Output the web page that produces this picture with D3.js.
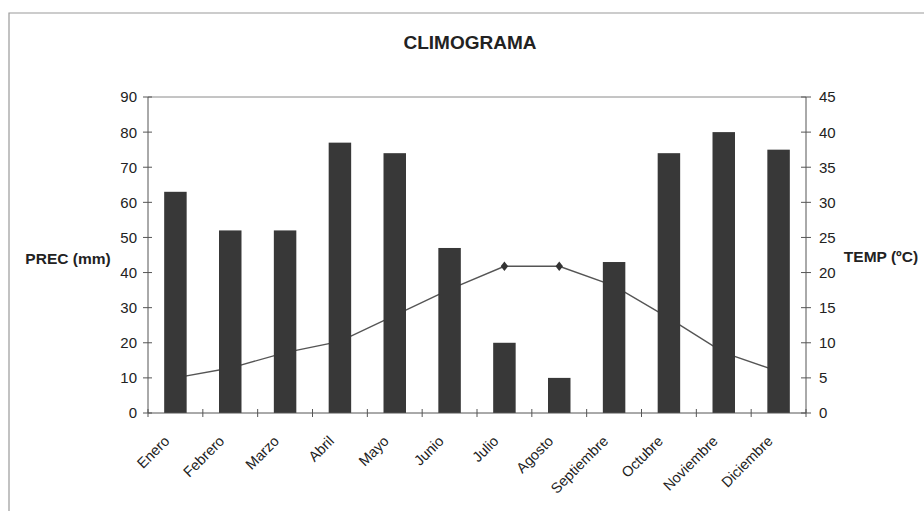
<!DOCTYPE html>
<html>
<head>
<meta charset="utf-8">
<script src="https://cdn.jsdelivr.net/npm/d3@7"></script>
<style>
  body { margin: 0; background: #fff; }
  svg { display: block; font-family: "Liberation Sans", Arial, sans-serif; }
</style>
</head>
<body>
<svg id="chart" width="924" height="511"></svg>
<script>
const months = ['Enero', 'Febrero', 'Marzo', 'Abril', 'Mayo', 'Junio', 'Julio',
  'Agosto', 'Septiembre', 'Octubre', 'Noviembre', 'Diciembre'];
const prec = [63, 52, 52, 77, 74, 47, 20, 10, 43, 74, 80, 75];
const temp = [5.0, 6.4, 8.6, 10.2, 13.9, 17.6, 20.9, 20.9, 18.1, 13.5, 8.6, 5.9];
const precTicks = [0, 10, 20, 30, 40, 50, 60, 70, 80, 90];
const tempTicks = [0, 5, 10, 15, 20, 25, 30, 35, 40, 45];

const svg = d3.select('#chart');
const pLeft = 148, pRight = 806, pTop = 97, pBottom = 413;

// chart frame
svg.append('path')
  .attr('d', `M9,511V13H924`)
  .attr('fill', 'none')
  .attr('stroke', '#9a9a9a')
  .attr('stroke-width', 1.2);

const x = d3.scaleBand()
  .domain(months)
  .range([pLeft, pRight])
  .paddingInner(0.59)
  .paddingOuter(0.295);

const yP = d3.scaleLinear().domain([0, 90]).range([pBottom, pTop]);
const yT = d3.scaleLinear().domain([0, 45]).range([pBottom, pTop]);

// plot area top edge
svg.append('line')
  .attr('x1', pLeft).attr('x2', pRight)
  .attr('y1', pTop).attr('y2', pTop)
  .attr('stroke', '#8a8a8a');

// temperature line (drawn under the bars)
const line = d3.line()
  .x((d, i) => x(months[i]) + x.bandwidth() / 2)
  .y(d => yT(d));

svg.append('path')
  .datum(temp)
  .attr('d', line)
  .attr('fill', 'none')
  .attr('stroke', '#555')
  .attr('stroke-width', 1.4);

svg.selectAll('.mark')
  .data(temp)
  .enter()
  .append('path')
  .attr('d', d3.symbol(d3.symbolDiamond, 40))
  .attr('transform', (d, i) => `translate(${x(months[i]) + x.bandwidth() / 2},${yT(d)}) scale(1.1,0.8)`)
  .attr('fill', '#333');

// precipitation bars
svg.selectAll('.bar')
  .data(prec)
  .enter()
  .append('rect')
  .attr('x', (d, i) => x(months[i]))
  .attr('y', d => yP(d))
  .attr('width', x.bandwidth())
  .attr('height', d => pBottom - yP(d))
  .attr('fill', '#383838');

// left axis
const axL = svg.append('g');
axL.append('line')
  .attr('x1', pLeft).attr('x2', pLeft)
  .attr('y1', pTop).attr('y2', pBottom)
  .attr('stroke', '#555');
axL.selectAll('.t')
  .data(precTicks)
  .enter()
  .append('line')
  .attr('x1', pLeft - 5).attr('x2', pLeft + 4)
  .attr('y1', d => yP(d)).attr('y2', d => yP(d))
  .attr('stroke', '#555');
axL.selectAll('text')
  .data(precTicks)
  .enter()
  .append('text')
  .attr('x', pLeft - 11)
  .attr('y', d => yP(d))
  .attr('dy', '0.36em')
  .attr('text-anchor', 'end')
  .style('font-size', '15px')
  .style('fill', '#222')
  .text(d => d);

// right axis
const axR = svg.append('g');
axR.append('line')
  .attr('x1', pRight).attr('x2', pRight)
  .attr('y1', pTop).attr('y2', pBottom)
  .attr('stroke', '#555');
axR.selectAll('.t')
  .data(tempTicks)
  .enter()
  .append('line')
  .attr('x1', pRight - 5).attr('x2', pRight + 5)
  .attr('y1', d => yT(d)).attr('y2', d => yT(d))
  .attr('stroke', '#555');
axR.selectAll('text')
  .data(tempTicks)
  .enter()
  .append('text')
  .attr('x', pRight + 13)
  .attr('y', d => yT(d))
  .attr('dy', '0.36em')
  .style('font-size', '15px')
  .style('fill', '#222')
  .text(d => d);

// category axis
const step = x.step();
const gap = (step - x.bandwidth()) / 2;
const bounds = months.map(m => x(m) - gap).concat([pRight]);
svg.append('line')
  .attr('x1', pLeft).attr('x2', pRight)
  .attr('y1', pBottom).attr('y2', pBottom)
  .attr('stroke', '#555');
svg.selectAll('.xt')
  .data(bounds)
  .enter()
  .append('line')
  .attr('x1', d => d).attr('x2', d => d)
  .attr('y1', pBottom - 4).attr('y2', pBottom + 4)
  .attr('stroke', '#555');

svg.selectAll('.xl')
  .data(months)
  .enter()
  .append('text')
  .attr('transform', d => `translate(${x(d) + x.bandwidth() / 2 - 5},${pBottom + 29}) rotate(-45)`)
  .attr('text-anchor', 'end')
  .style('font-size', '14.5px')
  .style('fill', '#222')
  .text(d => d);

// titles
svg.append('text')
  .attr('x', 470).attr('y', 49)
  .attr('text-anchor', 'middle')
  .style('font-size', '19px')
  .style('font-weight', 'bold')
  .style('fill', '#222')
  .text('CLIMOGRAMA');

svg.append('text')
  .attr('x', 68).attr('y', 258)
  .attr('dy', '0.36em')
  .attr('text-anchor', 'middle')
  .style('font-size', '15.5px')
  .style('font-weight', 'bold')
  .style('fill', '#222')
  .text('PREC (mm)');

svg.append('text')
  .attr('x', 881).attr('y', 256)
  .attr('dy', '0.36em')
  .attr('text-anchor', 'middle')
  .style('font-size', '15.5px')
  .style('font-weight', 'bold')
  .style('fill', '#222')
  .text('TEMP (ºC)');
</script>
</body>
</html>
